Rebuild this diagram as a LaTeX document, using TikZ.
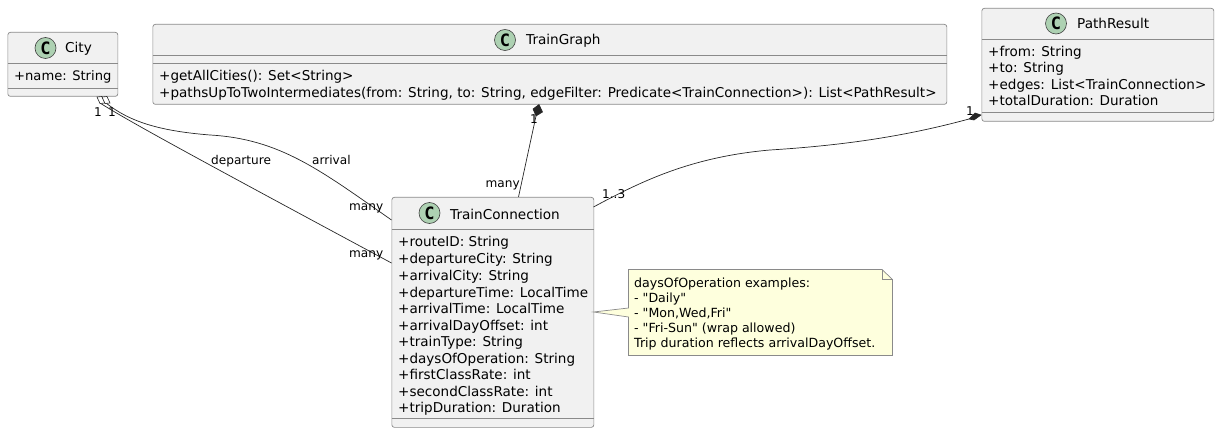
\documentclass[tikz,border=0pt]{standalone}
\usepackage{fontspec}
\setmainfont{DejaVu Sans}
\newfontfamily\spotfont{DejaVu Sans Mono}
\newfontfamily\notefont{DejaVu Sans}
\usetikzlibrary{calc}
\definecolor{boxfill}{HTML}{F1F1F1}
\definecolor{boxline}{HTML}{8A8A8A}
\definecolor{circfill}{HTML}{ADD1B2}
\definecolor{notefill}{HTML}{FEFFDD}
\tikzset{
 x=1pt,y=-1pt,
 classbox/.style={draw=boxline,fill=boxfill,rounded corners=2.5pt,line width=0.7pt,anchor=north west,inner sep=0pt},
 divider/.style={draw=boxline,line width=0.7pt},
 member/.style={anchor=base west,inner sep=0pt,font=\fontsize{13.55}{14}\selectfont},
 shortmember/.style={anchor=base west,inner sep=0pt,font=\fontsize{13.1}{14}\selectfont},
 title/.style={anchor=base west,inner sep=0pt,font=\fontsize{13.6}{14}\selectfont},
 spot/.style={circle,draw=black!75,fill=circfill,line width=0.6pt,minimum size=21pt,inner sep=0pt,font=\spotfont\fontsize{17}{17}\bfseries\selectfont},
 conn/.style={draw=black!85,line width=0.7pt},
 hollow/.style={draw=black!85,fill=white,line width=0.6pt},
 solid/.style={draw=black!85,fill=black!85,line width=0.6pt},
 tag/.style={inner sep=0pt,font=\fontsize{12.1}{13}\selectfont,anchor=base west},
 notetext/.style={anchor=base west,inner sep=0pt,font=\notefont\fontsize{12.6}{14}\selectfont},
}
\newcommand{\umlbox}[5]{% name x y w h
 \node[classbox,minimum width=#4pt,minimum height=#5pt] (#1) at (#2,#3) {};}
\begin{document}
\begin{tikzpicture}
\useasboundingbox (0,0) rectangle (1219,433);
\umlbox{city}{7.5}{32}{110}{64}
\draw[divider] (7.5,63) -- (117.5,63) (7.5,88) -- (117.5,88);
\node[spot] (citys) at (45.5,48) {C};
\node[title] (cityt) at (65,53) {City};
\node[shortmember] (citym) at (14,81) {+name: String};

\umlbox{tg}{152.5}{24}{794}{80}
\draw[divider] (152.5,55) -- (946.5,55) (152.5,63) -- (946.5,63);
\node[spot] (tgs) at (505,40) {C};
\node[title] (tgt) at (526,45) {TrainGraph};
\node[member] (tgm1) at (159,81) {+getAllCities(): Set<String>};
\node[member] (tgm2) at (159,98) {+pathsUpToTwoIntermediates(from: String, to: String, edgeFilter: Predicate<TrainConnection>): List<PathResult>};

\umlbox{pr}{981.5}{8}{232}{113}
\draw[divider] (981.5,39) -- (1213.5,39) (981.5,112) -- (1213.5,112);
\node[spot] (prs) at (1056,23.5) {C};
\node[title] (prt) at (1077,29) {PathResult};
\node[member] at (988,57) {+from: String};
\node[member] at (988,73) {+to: String};
\node[member] at (988,90) {+edges: List<TrainConnection>};
\node[member] at (988,106) {+totalDuration: Duration};

\umlbox{tc}{391.5}{197}{202}{230}
\draw[divider] (391.5,229) -- (593.5,229) (391.5,418) -- (593.5,418);
\node[spot] (tcs) at (429.5,213) {C};
\node[title] (tct) at (450,219) {TrainConnection};
\node[member] at (398,247) {+routeID: String};
\node[member] at (398,263.5) {+departureCity: String};
\node[member] at (398,280) {+arrivalCity: String};
\node[member] at (398,297) {+departureTime: LocalTime};
\node[member] at (398,313.5) {+arrivalTime: LocalTime};
\node[member] at (398,330) {+arrivalDayOffset: int};
\node[member] at (398,346) {+trainType: String};
\node[member] at (398,363) {+daysOfOperation: String};
\node[member] at (398,379.5) {+firstClassRate: int};
\node[member] at (398,396) {+secondClassRate: int};
\node[member] at (398,412.5) {+tripDuration: Duration};

\draw[divider,fill=notefill] (628.5,269.5) -- (882,269.5) -- (892.5,279.5) -- (892.5,355.5) -- (628.5,355.5) -- (628.5,317) -- (593.5,312) -- (628.5,308) -- cycle;
\draw[divider] (882,269.5) -- (882,279.5) -- (892.5,279.5);
\node[notetext] at (634,287) {daysOfOperation examples:};
\node[notetext] at (634,302) {- "Daily"};
\node[notetext] at (634,317) {- "Mon,Wed,Fri"};
\node[notetext] at (634,332) {- "Fri-Sun" (wrap allowed)};
\node[notetext] at (634,347.5) {Trip duration reflects arrivalDayOffset.};

\coordinate (a1) at (106,103);
\coordinate (a2) at (391.5,220);
\coordinate (d1) at (100,103);
\coordinate (d2) at (391.5,263);
\coordinate (g1) at (536,116);
\coordinate (g2) at (518.5,197);
\coordinate (p1) at (593.5,207);
\coordinate (p2) at (969,119);
\draw[conn] (a1) .. controls (130,122) and (160,131) .. (210,135) .. controls (280,139) and (320,170) .. (a2);
\draw[conn] (d1) .. controls (130,122) and (200,160) .. (d2);
\draw[conn] (g1) -- (g2);
\draw[conn] (p1) .. controls (640,182) and (690,157) .. (770,150) .. controls (850,145) and (910,135) .. (p2);
\draw[hollow] (97,97) -- (102,96.5) -- (105,103) -- (100,103.5) -- cycle;
\draw[hollow] (102,97) -- (107,96.5) -- (110,103) -- (105,103.5) -- cycle;
\draw[solid] (539,104.5) -- (542.5,112) -- (536,116) -- (533,109) -- cycle;
\draw[solid] (981,115) -- (974,120) -- (969,119) -- (975,113) -- cycle;
\node[tag] at (94,117) {1};
\node[tag] at (108,117) {1};
\node[tag] at (211,165) {departure};
\node[tag] at (312,165) {arrival};
\node[tag] at (349,211) {many};
\node[tag] at (349,257) {many};
\node[tag] at (485.5,188) {many};
\node[tag] at (530,124) {1};
\node[tag] at (602,199) {1..3};
\node[tag] at (966,116) {1};
\end{tikzpicture}
\end{document}
